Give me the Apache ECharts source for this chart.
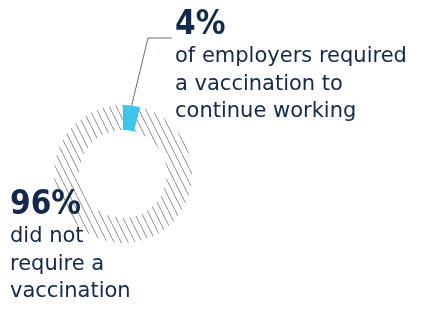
<!DOCTYPE html>
<html>
<head>
<meta charset="utf-8">
<script src="https://cdn.jsdelivr.net/npm/echarts@6/dist/echarts.min.js"></script>
<style>
  html, body { margin: 0; padding: 0; background: #fff; }
  #main { width: 422px; height: 311px; }
</style>
</head>
<body>
<div id="main"></div>
<script>
// data
const categories = ["required", "did not require"];
const shares = [4, 96];
const bigLabels = ["4%", "96%"];
const bodyLabels = [
  "of employers required\na vaccination to\ncontinue working",
  "did not\nrequire a\nvaccination"
];

const navy = "#14294b";

// hatch pattern for the 96% slice
function hatch() {
  let c = document.createElement("canvas");
  c.width = 7;
  c.height = 14;
  let ctx = c.getContext("2d");
  ctx.strokeStyle = "#8c8c8c";
  ctx.lineWidth = 1;
  ctx.beginPath();
  ctx.moveTo(-1, -2);
  ctx.lineTo(8, 16);
  ctx.stroke();
  return c;
}

let myChart = echarts.init(document.getElementById("main"));
let options = {
  animation: false,
  series: [
    {
      type: "pie",
      center: [123, 174],
      radius: [44, 69],
      startAngle: 90,
      clockwise: true,
      silent: true,
      label: {
        show: true,
        position: "outside",
        overflow: "none",
        formatter: function (p) {
          let lines = bodyLabels[p.dataIndex].split("\n").map(function (t) {
            return "{body|" + t + "}";
          });
          return "{big|" + bigLabels[p.dataIndex] + "}\n" + lines.join("\n");
        },
        rich: {
          big: {
            fontFamily: "'DejaVu Sans Condensed', 'Liberation Sans Narrow', 'Liberation Sans', sans-serif",
            fontWeight: "bold",
            fontSize: 33,
            lineHeight: 36,
            color: navy
          },
          body: {
            fontFamily: "'DejaVu Sans', sans-serif",
            fontSize: 21,
            lineHeight: 27.5,
            color: navy
          }
        }
      },
      labelLine: {
        show: true,
        lineStyle: { color: "#5f6f86", width: 1 }
      },
      labelLayout: function (params) {
        if (params.dataIndex === 0) {
          let p0 = params.labelLinePoints ? params.labelLinePoints[0] : [133, 104];
          return {
            x: 175,
            y: 7,
            align: "left",
            verticalAlign: "top",
            labelLinePoints: [p0, [148, 38], [172, 38]]
          };
        }
        return {
          x: 10,
          y: 187,
          align: "left",
          verticalAlign: "top"
        };
      },
      data: categories.map(function (name, i) {
        return {
          name: name,
          value: shares[i],
          itemStyle: i === 0
            ? { color: "#3ec5ef" }
            : { color: { image: hatch(), repeat: "repeat" } },
          labelLine: { show: i === 0 }
        };
      })
    }
  ]
};
myChart.setOption(options);
</script>
</body>
</html>
